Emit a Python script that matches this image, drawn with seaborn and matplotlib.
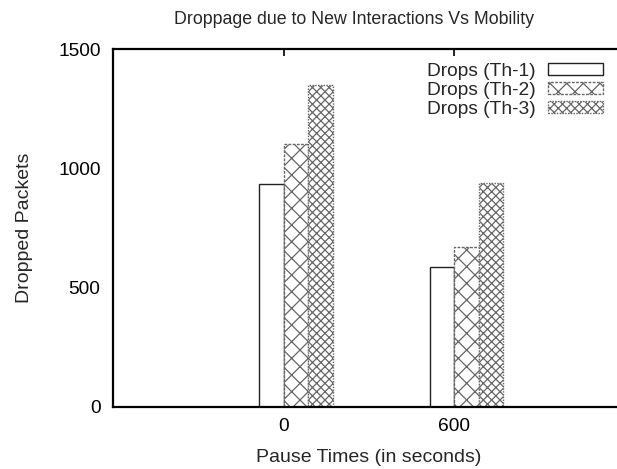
import matplotlib
matplotlib.use("Agg")
import matplotlib.pyplot as plt
from matplotlib.patches import Patch
import seaborn as sns
import pandas as pd

pause_times = ["0", "600"]
series = ["Drops (Th-1)", "Drops (Th-2)", "Drops (Th-3)"]
th1 = [935, 585]
th2 = [1100, 670]
th3 = [1350, 940]

rows = []
for s, vals in zip(series, [th1, th2, th3]):
    for p, v in zip(pause_times, vals):
        rows.append({"pause": p, "series": s, "drops": v})
df = pd.DataFrame(rows)

sns.set_style("white")
plt.rcParams["font.family"] = ["Liberation Sans", "DejaVu Sans"]
plt.rcParams["hatch.linewidth"] = 0.9

fig = plt.figure(figsize=(6.17, 4.69), dpi=100)
ax = fig.add_axes([113 / 617, 1 - 406.7 / 469, 512 / 617, 357.7 / 469])

sns.barplot(data=df, x="pause", y="drops", hue="series", order=pause_times,
            hue_order=series, palette=["white"] * 3, edgecolor="#333333",
            linewidth=1.0, width=0.432, ax=ax, legend=False)

hatches = [None, "xx", "xxxx"]
styles = ["solid", (0, (2, 1)), (0, (1, 1))]
edgecols = ["#222222", "#666666", "#666666"]
handles = []
for cont, h, ls, ec, lab in zip(ax.containers, hatches, styles, edgecols, series):
    for p in cont.patches:
        if h:
            p.set_hatch(h)
        p.set_edgecolor(ec)
        p.set_linestyle(ls)
    handles.append(Patch(facecolor="white", edgecolor=ec, hatch=h,
                         linestyle=ls, linewidth=1.0, label=lab))

bw = 0.144
ax.set_xticks([0 - bw / 2, 1 - bw / 2])
ax.set_xticklabels(pause_times)
ax.set_xlim(-1 - bw / 2, 2 - bw / 2)
ax.set_ylim(0, 1500)
ax.set_yticks([0, 500, 1000, 1500])

for side in ["left", "bottom", "top", "right"]:
    ax.spines[side].set_visible(True)
    ax.spines[side].set_linewidth(1.6)
    ax.spines[side].set_color("black")
ax.tick_params(direction="in", length=5, width=1.2, top=True, right=True,
               labelsize=13.8, pad=8, colors="black")
ax.tick_params(axis="y", pad=9)

ax.set_xlabel("Pause Times (in seconds)", fontsize=14, labelpad=10)
ax.set_ylabel("Dropped Packets", fontsize=14, labelpad=18)
fig.text(354 / 617, 1 - 20 / 469,
         "Droppage due to New Interactions Vs Mobility",
         ha="center", va="center", fontsize=12.8)

leg = ax.legend(handles=handles, loc="upper right",
                bbox_to_anchor=((605 - 113) / 512, 1 - 12 / 357.7),
                frameon=False, markerfirst=False, fontsize=13.8,
                handlelength=2.9, handleheight=0.55, labelspacing=0.1,
                borderpad=0.1, handletextpad=0.6, borderaxespad=0.0)

fig.savefig("out.png", dpi=100)
